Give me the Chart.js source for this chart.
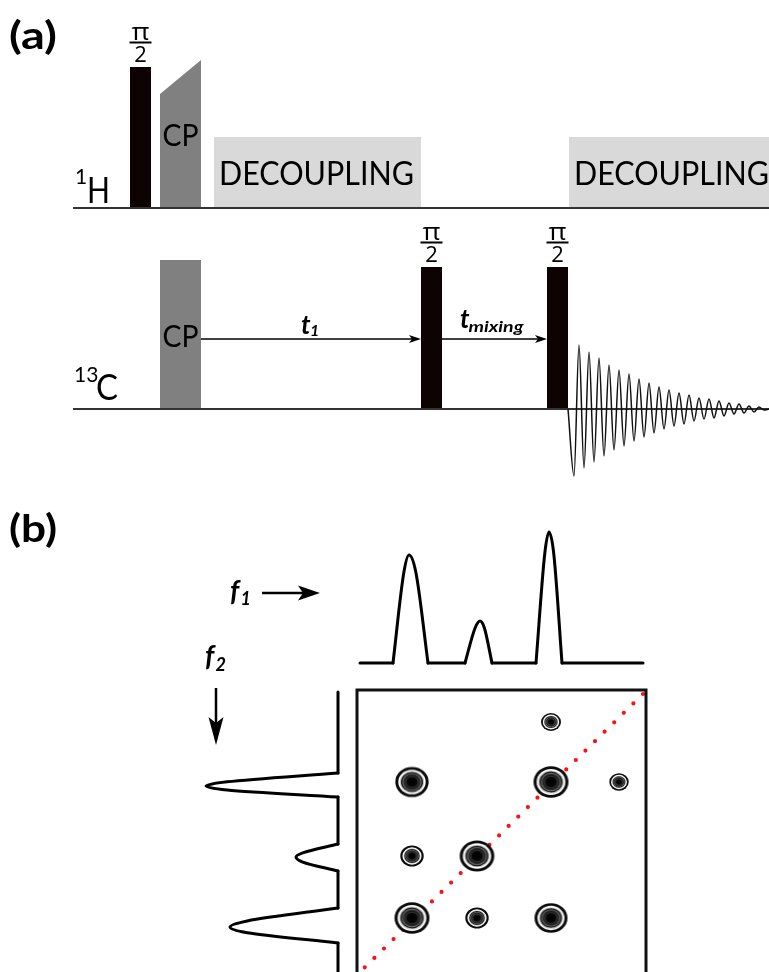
<!DOCTYPE html>
<html>
<head>
<meta charset="utf-8">
<title>2D exchange NMR: pulse sequence and spectrum</title>
<script src="https://cdn.jsdelivr.net/npm/chart.js@4/dist/chart.umd.min.js"></script>
<style>
  html, body { margin: 0; padding: 0; background: #fff; }
  #wrap { width: 769px; height: 972px; position: relative; }
</style>
</head>
<body>
<div id="wrap"><canvas id="c"></canvas></div>
<script>
// ---------- (a) pulse sequence, timeline in diagram units ----------
const channelNames = [['1', 'H'], ['13', 'C']];
const channelLevels = [208, 409];            // 1H, 13C baselines
const channelStart = 73;
const timelineEnd = 769;

const hPulse = [130, 151];                   // 1H pi/2 excitation
const hPulseTop = 67;
const cpWindow = [160, 201];                 // cross-polarisation contact (both channels)
const hRampTop = [94, 60];                   // 1H ramp level at start / end of contact
const cCpTop = 260;
const decouplingWindows = [[214, 421], [569, 769]];
const decouplingTop = 137;
const cPulses = [[421, 442], [547, 568]];    // 13C pi/2 pulses
const cPulseTop = 267;
const delayLevel = 339;
const delays = [[201, 421], [442, 547]];     // t1 evolution, mixing
const delayNames = [['t', '1'], ['t', 'mixing']];
const blockNames = ['CP', 'DECOUPLING'];
const flipName = ['π', '2'];

// free induction decay: successive extrema after the last pulse
const fidX = [568,
  574, 579, 584, 589, 594, 599, 604, 609, 614, 619, 624, 629, 634, 639, 644, 649, 654, 659, 664,
  669, 674, 679, 684, 689, 694, 699, 704, 709, 714, 719, 724, 729, 734, 739, 744, 749, 754, 759,
  764, 769];
const fidY = [0,
  -67, 64, -59, 57, -53, 51, -47, 44, -41, 39, -37, 35, -32, 30, -28, 26, -24, 22, -20,
  19, -17, 16, -15, 14, -12, 11, -10, 10, -9, 8, -7, 6, -5, 5, -4, 3, -3, 2,
  -1, 0];

// ---------- (b) 2D spectrum ----------
const panelNames = ['(a)', '(b)'];
const axisNames = [['f', '1'], ['f', '2']];

const f1Level = 663;
const f1Range = [360, 643];
const f1Apex = [409, 480, 549];
const f1Height = [108, 42, 131];
const f1Feet = [[393, 428], [465, 492], [536, 562]];

const f2Level = 338;
const f2Range = [692, 990];
const f2Apex = [786, 857, 927];
const f2Height = [132, 42, 108];
const f2Feet = [[773, 797], [844, 871], [908, 943]];

const mapFrame = [357, 646, 690];            // left, right, top of the 2D map
const diagonalEnds = [[643, 694], [356, 976]];

const crossF1 = [551, 412, 551, 619, 412, 477, 412, 477, 551];
const crossF2 = [722, 782, 782, 782, 856, 856, 918, 918, 918];
const crossSize = [10, 16.7, 17.5, 9.7, 11.7, 17.3, 17.5, 11.7, 16.5];

// ---------- helpers that turn the values above into datasets ----------
const PULSE = '#0d0303', CPGREY = '#808080', DECGREY = '#d9d9d9', LINE = '#333333', INK = '#111111';
const pts = arr => arr.map(([x, y]) => ({x, y}));
const rect = (x0, y0, x1, y1) => [[x0, y0], [x1, y0], [x1, y1], [x0, y1]];
const datasets = [];
const add = d => datasets.push(d);

function shape(points, color) {
  return { data: pts(points), fill: 'shape', backgroundColor: color, borderColor: color,
           borderWidth: 0, pointRadius: 0 };
}
function stroke(points, color, width, extra) {
  return Object.assign({ data: pts(points), fill: false, borderColor: color, backgroundColor: color,
           borderWidth: width, pointRadius: 0, borderCapStyle: 'butt', borderJoinStyle: 'miter' }, extra || {});
}
function arrow(from, to, width, headLen, headHalf, notch) {
  const dx = to[0] - from[0], dy = to[1] - from[1];
  const L = Math.hypot(dx, dy), ux = dx / L, uy = dy / L, nx = -uy, ny = ux;
  const bx = to[0] - ux * headLen, by = to[1] - uy * headLen;
  const mx = to[0] - ux * (headLen - notch), my = to[1] - uy * (headLen - notch);
  add(stroke([from, [mx, my]], '#000', width));
  add(shape([to, [bx + nx * headHalf, by + ny * headHalf], [mx, my], [bx - nx * headHalf, by - ny * headHalf]], '#000'));
}

// ---------- (a) ----------
decouplingWindows.forEach(([s, e]) => add(shape(rect(s, decouplingTop, e, channelLevels[0]), DECGREY)));
add(shape(rect(hPulse[0], hPulseTop, hPulse[1], channelLevels[0]), PULSE));
add(shape([[cpWindow[0], hRampTop[0]], [cpWindow[1], hRampTop[1]], [cpWindow[1], channelLevels[0]], [cpWindow[0], channelLevels[0]]], CPGREY));
add(stroke([[channelStart, channelLevels[0]], [timelineEnd, channelLevels[0]]], LINE, 2));

add(shape(rect(cpWindow[0], cCpTop, cpWindow[1], channelLevels[1]), CPGREY));
cPulses.forEach(([s, e]) => add(shape(rect(s, cPulseTop, e, channelLevels[1]), PULSE)));
delays.forEach(([s, e]) => arrow([s, delayLevel], [e, delayLevel], 1.3, 12, 4, 3));
add(stroke([[channelStart, channelLevels[1]], [timelineEnd, channelLevels[1]]], LINE, 2));
add(stroke(fidX.map((x, i) => [x, channelLevels[1] - fidY[i]]), INK, 1.5,
  { cubicInterpolationMode: 'monotone', borderJoinStyle: 'round' }));

// ---------- (b) 1D projections ----------
// each peak: foot, shoulder, apex, shoulder, foot (rounded top via monotone cubic)
function peakOutline(a, c, b, h) {
  return [[a, 0], [a + 0.68 * (c - a), 0.84 * h], [c, h], [c + 0.36 * (b - c), 0.84 * h], [b, 0]];
}
const specOpts = { borderCapStyle: 'round', borderJoinStyle: 'round' };
const peakOpts = Object.assign({ cubicInterpolationMode: 'monotone' }, specOpts);

// f1 trace (horizontal)
for (let i = 0; i <= f1Feet.length; i++) {
  const s = i === 0 ? f1Range[0] : f1Feet[i - 1][1];
  const e = i === f1Feet.length ? f1Range[1] : f1Feet[i][0];
  add(stroke([[s, f1Level], [e, f1Level]], '#000', 3, specOpts));
}
f1Apex.forEach((c, i) => add(stroke(
  peakOutline(f1Feet[i][0], c, f1Feet[i][1], f1Height[i]).map(([u, v]) => [u, f1Level - v]),
  '#000', 3, peakOpts)));

// f2 trace (vertical, peaks pointing left)
for (let i = 0; i <= f2Feet.length; i++) {
  const s = i === 0 ? f2Range[0] : f2Feet[i - 1][1];
  const e = i === f2Feet.length ? f2Range[1] : f2Feet[i][0];
  add(stroke([[f2Level, s], [f2Level, e]], '#000', 3, specOpts));
}
f2Apex.forEach((c, i) => add(stroke(
  peakOutline(f2Feet[i][0], c, f2Feet[i][1], f2Height[i]).map(([u, v]) => [f2Level - v, u]),
  '#000', 3, Object.assign({ indexAxis: 'y' }, peakOpts))));

arrow([262, 593], [320, 593], 2.5, 22, 7.5, 5);
arrow([216, 688], [216, 745], 2.5, 28, 7.5, 6);

// ---------- (b) 2D map ----------
add(stroke(diagonalEnds, '#ff1010', 4.2, { borderDash: [0, 13.45], borderCapStyle: 'round' }));

function contourSprite(rx, ry) {
  const c = document.createElement('canvas');
  c.width = Math.ceil(2 * rx + 4); c.height = Math.ceil(2 * ry + 4);
  const g = c.getContext('2d');
  const cx = c.width / 2, cy = c.height / 2;
  const rings = [[1, '#0c0c0c'], [0.82, '#fff'], [0.73, '#c6c6c6'], [0.66, '#1a1a1a'], [0.58, '#6e6e6e'], [0.53, null]];
  for (const [f, col] of rings) {
    g.beginPath();
    g.ellipse(cx, cy, rx * f, ry * f, 0, 0, Math.PI * 2);
    if (col) g.fillStyle = col;
    else {
      const gr = g.createRadialGradient(cx, cy, 0, cx, cy, rx * f);
      gr.addColorStop(0, '#000'); gr.addColorStop(0.55, '#070707'); gr.addColorStop(1, '#3c3c3c');
      g.fillStyle = gr;
    }
    g.fill();
  }
  g.beginPath();
  g.ellipse(cx, cy, rx * 0.36, ry * 0.36, 0, 0, Math.PI * 2);
  g.strokeStyle = 'rgba(95,95,95,0.55)'; g.lineWidth = 0.8; g.stroke();
  return c;
}
const sprites = crossSize.map(s => contourSprite(s, s * 0.9));
add({
  data: crossF1.map((x, i) => ({x, y: crossF2[i]})),
  showLine: false, fill: false, borderWidth: 0, borderColor: '#000', backgroundColor: '#000',
  pointRadius: 4, pointStyle: c => sprites[c.dataIndex] || 'circle'
});

add(stroke([[mapFrame[0], 990], [mapFrame[0], mapFrame[2]], [mapFrame[1], mapFrame[2]], [mapFrame[1], 990]], INK, 3));

// draw datasets in the order they were added (first = bottom)
datasets.forEach((d, i) => { d.order = -i; });

// ---------- text ----------
const FONT = 'Lato, "Open Sans", "DejaVu Sans", sans-serif';
const GREEK = '"Open Sans", "DejaVu Sans", sans-serif';
function text(ctx, s, x, y, size, o) {
  o = o || {};
  ctx.save();
  ctx.font = `${o.italic ? 'italic ' : ''}${o.bold ? 'bold ' : ''}${size}px ${o.family || FONT}`;
  ctx.fillStyle = o.color || '#000';
  ctx.textBaseline = 'alphabetic';
  const w = ctx.measureText(s).width;
  const sx = o.width ? o.width / w : 1;
  let x0 = x;
  if (o.align === 'center') x0 = x - w * sx / 2;
  ctx.translate(x0, y);
  ctx.scale(sx, 1);
  ctx.fillText(s, 0, 0);
  ctx.restore();
}

const labelPlugin = {
  id: 'diagramLabels',
  afterDatasetsDraw(chart) {
    const ctx = chart.ctx;
    const X = v => chart.scales.x.getPixelForValue(v);
    const Y = v => chart.scales.y.getPixelForValue(v);

    // panel tags
    text(ctx, panelNames[0], X(9), Y(49), 38, { bold: true, width: 48 });
    text(ctx, panelNames[1], X(9), Y(542), 38, { bold: true, width: 48 });

    // flip angle over each pi/2 pulse
    const flips = [[(hPulse[0] + hPulse[1]) / 2, hPulseTop], ...cPulses.map(([s, e]) => [(s + e) / 2, cPulseTop])];
    flips.forEach(([c, top]) => {
      const bar = top - 24.5;
      text(ctx, flipName[0], X(c), Y(bar - 2.5), 24, { align: 'center', family: GREEK, width: 18 });
      ctx.fillStyle = '#000';
      ctx.fillRect(X(c - 11), Y(bar) - 1, X(c + 11) - X(c - 11), 2);
      text(ctx, flipName[1], X(c), Y(bar + 19.5), 22, { align: 'center', family: GREEK });
    });

    // blocks
    const cpMid = (cpWindow[0] + cpWindow[1]) / 2;
    text(ctx, blockNames[0], X(cpMid), Y(146), 30, { align: 'center', width: 36 });
    text(ctx, blockNames[0], X(cpMid), Y(347), 30, { align: 'center', width: 36 });
    decouplingWindows.forEach(([s]) => text(ctx, blockNames[1], X(s + 5), Y(185), 32, { width: 195 }));

    // nucleus names
    text(ctx, channelNames[0][0], X(75), Y(184), 21, {});
    text(ctx, channelNames[0][1], X(87), Y(203), 37, { width: 23 });
    text(ctx, channelNames[1][0], X(74), Y(382), 21, {});
    text(ctx, channelNames[1][1], X(96), Y(400), 37, { width: 22 });

    // delays
    text(ctx, delayNames[0][0], X(301), Y(334), 26, { bold: true, italic: true });
    text(ctx, delayNames[0][1], X(310), Y(336), 16, { bold: true, italic: true });
    text(ctx, delayNames[1][0], X(460), Y(328), 26, { bold: true, italic: true });
    text(ctx, delayNames[1][1], X(468.5), Y(332), 16, { bold: true, italic: true, width: 55 });

    // frequency axes
    text(ctx, axisNames[0][0], X(230), Y(601), 28, { bold: true, italic: true });
    text(ctx, axisNames[0][1], X(240.5), Y(605), 18, { bold: true, italic: true });
    text(ctx, axisNames[1][0], X(205), Y(666), 28, { bold: true, italic: true });
    text(ctx, axisNames[1][1], X(215.5), Y(671), 18, { bold: true, italic: true });
  }
};

new Chart(document.getElementById('c'), {
  type: 'line',
  data: { datasets },
  options: {
    responsive: true,
    maintainAspectRatio: false,
    animation: false,
    events: [],
    layout: { padding: 0, autoPadding: false },
    plugins: { legend: { display: false }, tooltip: { enabled: false } },
    scales: {
      x: { type: 'linear', min: 0, max: 769, display: false },
      y: { type: 'linear', min: 0, max: 972, reverse: true, display: false }
    },
    elements: { point: { radius: 0 }, line: { tension: 0 } }
  },
  plugins: [labelPlugin]
});
</script>
</body>
</html>
